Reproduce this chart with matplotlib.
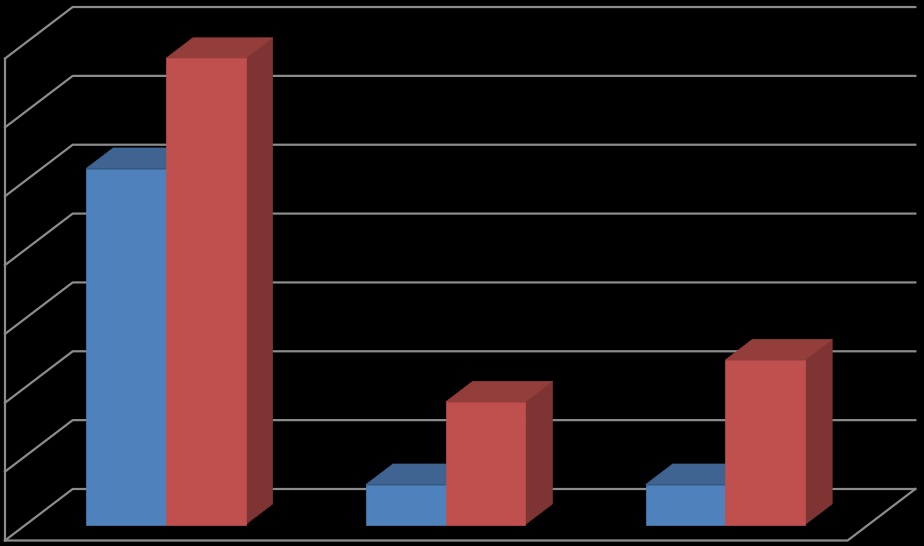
import numpy as np
import matplotlib
matplotlib.use("Agg")
import matplotlib.pyplot as plt
from matplotlib.patches import Polygon

# Data: three categories, two series
categories = ["A", "B", "C"]
series_blue = [5.17, 0.58, 0.58]
series_red = [6.77, 1.78, 2.39]
gridline_values = list(range(0, 8))

# Colours
blue_front, blue_top, blue_side = "#4F81BD", "#3F6491", "#385A85"
red_front, red_top, red_side = "#C0504D", "#943E3C", "#7E3432"
grid_color = "#8C8C8C"

# Oblique projection: depth 0 = front plane, depth 1 = back wall
depth_dx = 0.242   # in category units
depth_dy = 0.748   # in value units
bar_depth = (0.31, 0.71)
bar_width = 0.285
wall_pad = 0.012   # walls reach a little past the last category


def proj(x, y, d):
    return x + d * depth_dx, y + d * depth_dy


fig = plt.figure(figsize=(9.24, 5.46), dpi=100, facecolor="black")
ax = fig.add_axes([0, 0, 1, 1])
ax.set_facecolor("black")
ax.set_xlim(-0.0178, 3.285)
ax.set_ylim(-0.08, 7.85)
ax.axis("off")

n = len(categories)
right = n + wall_pad
top = gridline_values[-1]
line_kw = dict(color=grid_color, lw=1.6, solid_capstyle="projecting", zorder=1)

# back wall gridlines + left wall diagonals
for v in gridline_values:
    x0, y0 = proj(0, v, 0)
    x1, y1 = proj(0, v, 1)
    x2, y2 = proj(right, v, 1)
    ax.plot([x0, x1, x2], [y0, y1, y2], **line_kw)

# left wall front edge
ax.plot([0, 0], [0, top], **line_kw)
# floor front edge and right diagonal
x1, y1 = proj(right, 0, 1)
ax.plot([0, right, x1], [0, 0, y1], **line_kw)


def draw_bar(x_left, value, c_front, c_top, c_side, z):
    d0, d1 = bar_depth
    xr = x_left + bar_width
    front = [proj(x_left, 0, d0), proj(xr, 0, d0), proj(xr, value, d0), proj(x_left, value, d0)]
    top_face = [proj(x_left, value, d0), proj(xr, value, d0), proj(xr, value, d1), proj(x_left, value, d1)]
    side = [proj(xr, 0, d0), proj(xr, 0, d1), proj(xr, value, d1), proj(xr, value, d0)]
    for pts, c in ((side, c_side), (top_face, c_top), (front, c_front)):
        ax.add_patch(Polygon(pts, closed=True, facecolor=c, edgecolor=c, lw=0.5, zorder=z))


for i in range(n):
    center = i + 0.5
    draw_bar(center - bar_width, series_blue[i], blue_front, blue_top, blue_side, 2 + 2 * i)
    draw_bar(center, series_red[i], red_front, red_top, red_side, 3 + 2 * i)

fig.savefig("out.png", dpi=100, facecolor="black")
